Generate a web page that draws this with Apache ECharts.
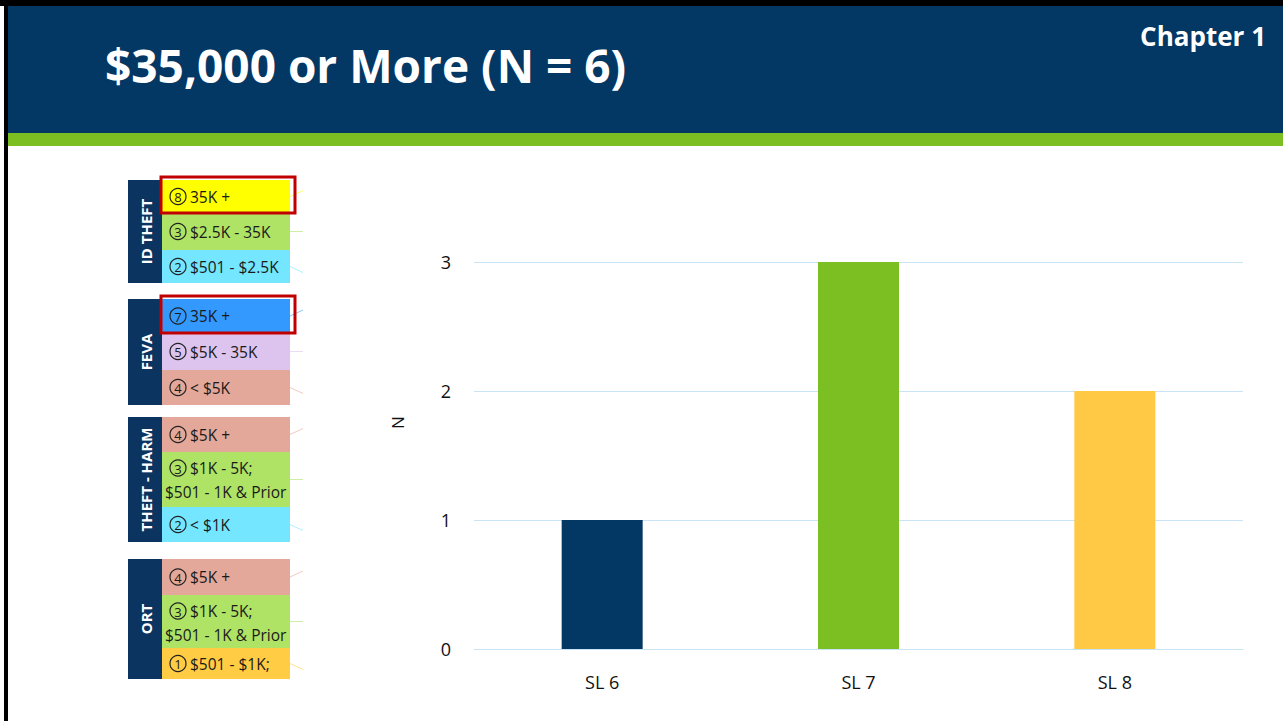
<!DOCTYPE html>
<html>
<head>
<meta charset="utf-8">
<script src="https://cdn.jsdelivr.net/npm/echarts@6/dist/echarts.min.js"></script>
<style>
html,body{margin:0;padding:0;background:#fff;}
#c{width:1283px;height:721px;}
</style>
</head>
<body>
<div id="c"></div>
<script>
// ---- data ----
const categories = ['SL 6', 'SL 7', 'SL 8'];
const counts = [1, 3, 2];
const yTicks = [0, 1, 2, 3];
const titleText = '$35,000 or More (N = 6)';
const chapterText = 'Chapter 1';
const yAxisName = 'N';
const groupNames = ['ID THEFT', 'FEVA', 'THEFT - HARM', 'ORT'];
const rowLevels = [
  ['8', '3', '2'],
  ['7', '5', '4'],
  ['4', '3', '2'],
  ['4', '3', '1']
];
const rowLabels = [
  ['35K +', '$2.5K - 35K', '$501 - $2.5K'],
  ['35K +', '$5K - 35K', '< $5K'],
  ['$5K +', '$1K - 5K;|$501 - 1K & Prior', '< $1K'],
  ['$5K +', '$1K - 5K;|$501 - 1K & Prior', '$501 - $1K;']
];
const highlighted = [[0, 0], [1, 0]];

// ---- styles ----
const barColors = ['#033764', '#7BBF22', '#FFC845'];
const rowColors = [
  ['#FFFF00', '#AEE365', '#74E6FF'],
  ['#3399FF', '#DCC4EE', '#E3A899'],
  ['#E3A899', '#AEE365', '#74E6FF'],
  ['#E3A899', '#AEE365', '#FFCC44']
];
const groupBounds = [
  [180, 213, 250, 283],
  [299, 333, 370, 405],
  [417, 452, 507, 542],
  [559, 595, 648, 679]
];
const rowFont = '15.5px "Open Sans", sans-serif';

const graphics = [];
// slide border and header
graphics.push({type: 'rect', shape: {x: 0, y: 0, width: 1283, height: 6}, style: {fill: '#000'}, silent: true});
graphics.push({type: 'rect', shape: {x: 4, y: 0, width: 4, height: 721}, style: {fill: '#000'}, silent: true});
graphics.push({type: 'rect', shape: {x: 8, y: 6, width: 1275, height: 127}, style: {fill: '#033764'}, silent: true});
graphics.push({type: 'rect', shape: {x: 8, y: 133, width: 1275, height: 13}, style: {fill: '#7BBF22'}, silent: true});
graphics.push({type: 'text', x: 105, y: 65, style: {text: titleText, fill: '#fff', font: 'bold 46px "Open Sans", sans-serif', textVerticalAlign: 'middle'}, silent: true});
graphics.push({type: 'text', x: 1266, y: 36, style: {text: chapterText, fill: '#fff', font: 'bold 26px "Open Sans", sans-serif', textAlign: 'right', textVerticalAlign: 'middle'}, silent: true});

function circled(cx, cy, d) {
  graphics.push({type: 'circle', shape: {cx: cx, cy: cy, r: 8}, style: {fill: 'none', stroke: '#222', lineWidth: 1.2}, silent: true});
  graphics.push({type: 'text', x: cx, y: cy + 0.5, style: {text: d, fill: '#1a1a1a', font: '13px "Open Sans", sans-serif', textAlign: 'center', textVerticalAlign: 'middle'}, silent: true});
}

// left diagram
groupNames.forEach(function (g, gi) {
  const b = groupBounds[gi];
  graphics.push({type: 'rect', shape: {x: 128, y: b[0], width: 34, height: b[3] - b[0]}, style: {fill: '#0B3560'}, silent: true});
  graphics.push({type: 'text', x: 146, y: (b[0] + b[3]) / 2, rotation: Math.PI / 2,
    style: {text: g, fill: '#fff', font: 'bold 15px "Open Sans", sans-serif', textAlign: 'center', textVerticalAlign: 'middle'}, silent: true});
  rowLabels[gi].forEach(function (r, ri) {
    const y0 = b[ri], y1 = b[ri + 1];
    graphics.push({type: 'rect', shape: {x: 162, y: y0, width: 128, height: y1 - y0}, style: {fill: rowColors[gi][ri]}, silent: true});
    const parts = r.split('|');
    if (parts.length === 1) {
      const cy = (y0 + y1) / 2;
      circled(178, cy, rowLevels[gi][ri]);
      graphics.push({type: 'text', x: 190, y: cy, style: {text: parts[0], fill: '#1a1a1a', font: rowFont, textVerticalAlign: 'middle'}, silent: true});
    } else {
      const cy1 = y0 + 16, cy2 = y0 + 40;
      circled(178, cy1, rowLevels[gi][ri]);
      graphics.push({type: 'text', x: 190, y: cy1, style: {text: parts[0], fill: '#1a1a1a', font: rowFont, textVerticalAlign: 'middle'}, silent: true});
      graphics.push({type: 'text', x: 165, y: cy2, style: {text: parts[1], fill: '#1a1a1a', font: rowFont, textVerticalAlign: 'middle'}, silent: true});
    }
    graphics.push({type: 'line', shape: {x1: 290, y1: (y0 + y1) / 2, x2: 303, y2: (y0 + y1) / 2 + (ri - 1) * 6},
      style: {stroke: rowColors[gi][ri], lineWidth: 1, opacity: 0.6}, silent: true});
  });
});
highlighted.forEach(function (h) {
  const b = groupBounds[h[0]];
  graphics.push({type: 'rect', shape: {x: 161, y: b[h[1]] - 3, width: 134, height: b[h[1] + 1] - b[h[1]] + 3}, style: {fill: 'none', stroke: '#C00000', lineWidth: 3}, silent: true});
});

const chart = echarts.init(document.getElementById('c'), null, {renderer: 'svg'});
chart.setOption({
  animation: false,
  backgroundColor: '#fff',
  grid: {left: 474, right: 40, top: 262, bottom: 72, containLabel: false},
  xAxis: {
    type: 'category', data: categories,
    axisLine: {show: true, lineStyle: {color: '#C9E3F7', width: 1}},
    axisTick: {show: false},
    axisLabel: {color: '#111', fontSize: 18, margin: 24, fontFamily: '"Open Sans", sans-serif'}
  },
  yAxis: {
    type: 'value', min: yTicks[0], max: yTicks[yTicks.length - 1], interval: 1,
    name: yAxisName, nameLocation: 'middle', nameRotate: 90, nameGap: 68,
    nameTextStyle: {color: '#111', fontSize: 17, fontFamily: '"Open Sans", sans-serif', padding: [0, 0, 0, 66]},
    axisLine: {show: false}, axisTick: {show: false},
    axisLabel: {color: '#111', fontSize: 18, margin: 23, fontFamily: '"Open Sans", sans-serif'},
    splitLine: {lineStyle: {color: '#C9E3F7', width: 1}}
  },
  series: [{
    type: 'bar', barWidth: 81,
    data: counts.map(function (v, i) { return {value: v, itemStyle: {color: barColors[i]}}; })
  }],
  graphic: graphics
});
</script>
</body>
</html>
